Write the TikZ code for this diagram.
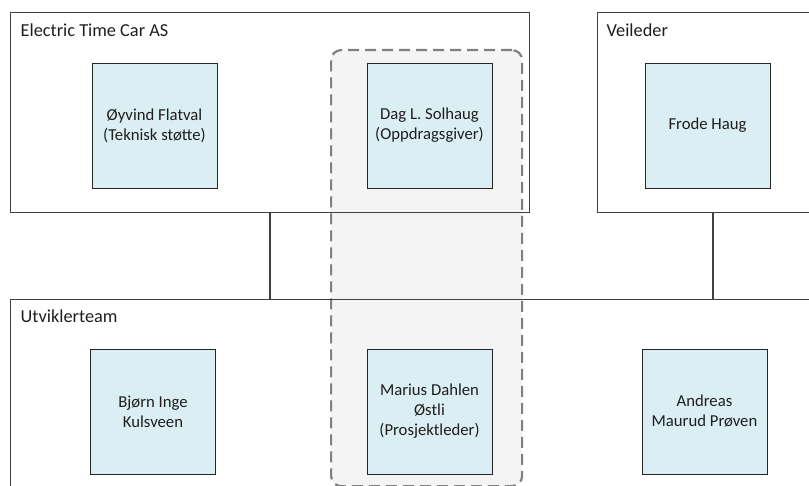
\documentclass[tikz,border=0pt]{standalone}
\usepackage{fontspec}
\setmainfont{Carlito}
\definecolor{personblue}{HTML}{DAEEF3}
\definecolor{boxedge}{HTML}{262626}
\definecolor{linegray}{HTML}{404040}
\definecolor{regionfill}{HTML}{F4F4F4}
\definecolor{dashgray}{HTML}{808080}
\definecolor{textgray}{HTML}{1E1E1E}
\begin{document}
\begin{tikzpicture}[x=1pt,y=-1pt,
  group/.style={draw=linegray, line width=1.1pt, anchor=north west, inner sep=0pt},
  region/.style={draw=dashgray, fill=regionfill, line width=2.2pt, dash pattern=on 11pt off 6pt,
    rounded corners=10pt, anchor=north west, inner sep=0pt},
  person/.style={draw=boxedge, fill=personblue, line width=0.9pt, minimum width=125pt,
    minimum height=125pt, inner sep=2pt, align=center, text=textgray,
    font=\fontsize{16.7}{20}\selectfont},
  grouplabel/.style={anchor=base west, inner sep=0pt, text=textgray,
    font=\fontsize{18.3}{22}\selectfont},
  link/.style={draw=linegray, line width=1.1pt}
]
\useasboundingbox (0,0) rectangle (809,486);
\clip (0,0) rectangle (809,486);

% project leader band behind the groups
\node[region, minimum width=191pt, minimum height=436pt] (lead) at (330,49) {};

% organisational groups
\node[group, minimum width=519pt, minimum height=200pt] (etc) at (10,12) {};
\node[group, minimum width=250pt, minimum height=200pt] (veil) at (597,12) {};
\node[group, minimum width=820pt, minimum height=220pt] (team) at (10,299) {};

\node[grouplabel] (etclabel) at (20.5,36.5) {Electric Time Car AS};
\node[grouplabel] (veillabel) at (606.5,36.5) {Veileder};
\node[grouplabel] (teamlabel) at (20.5,323) {Utviklerteam};

% links between the groups
\coordinate (j1) at (270,212);
\coordinate (j2) at (713,212);
\draw[link] (j1) -- (j1 |- team.north);
\draw[link] (j2) -- (j2 |- team.north);

% people
\node[person] (oyvind) at (154.5,125.5) {Øyvind Flatval\\(Teknisk støtte)};
\node[person] (dag) at (429.5,125.5) {Dag L. Solhaug\\(Oppdragsgiver)};
\node[person] (frode) at (707.5,125.5) {Frode Haug};
\node[person] (bjorn) at (153,411.5) {Bjørn Inge\\Kulsveen};
\node[person] (marius) at (429.5,411.5) {Marius Dahlen\\Østli\\(Prosjektleder)};
\node[person] (andreas) at (704.5,411.5) {Andreas\\Maurud Prøven};
\end{tikzpicture}
\end{document}
